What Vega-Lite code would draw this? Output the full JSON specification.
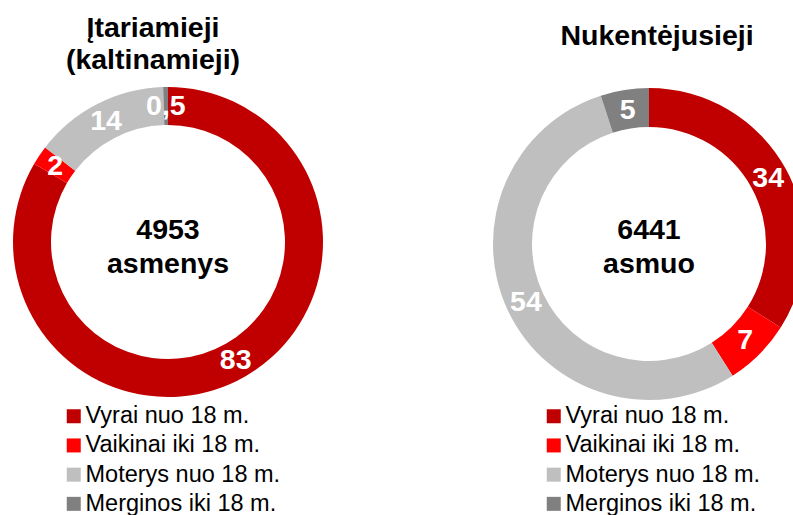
{
  "$schema": "https://vega.github.io/schema/vega-lite/v6.json",
  "padding": {"top": 13, "left": 0, "right": -12, "bottom": 0},
  "autosize": {"type": "pad"},
  "background": "white",
  "bounds": "flush",
  "spacing": 157,
  "config": {"font": "Liberation Sans", "view": {"stroke": null}},
  "datasets": {
    "left": [
      {"category": "Vyrai nuo 18 m.", "value": 83, "label": "83", "order": 1},
      {"category": "Vaikinai iki 18 m.", "value": 2, "label": "2", "order": 2},
      {"category": "Moterys nuo 18 m.", "value": 14, "label": "14", "order": 3},
      {"category": "Merginos iki 18 m.", "value": 0.5, "label": "0,5", "order": 4}
    ],
    "right": [
      {"category": "Vyrai nuo 18 m.", "value": 34, "label": "34", "order": 1},
      {"category": "Vaikinai iki 18 m.", "value": 7, "label": "7", "order": 2},
      {"category": "Moterys nuo 18 m.", "value": 54, "label": "54", "order": 3},
      {"category": "Merginos iki 18 m.", "value": 5, "label": "5", "order": 4}
    ]
  },
  "resolve": {"legend": {"color": "independent"}},
  "hconcat": [
    {
      "width": 336,
      "height": 310,
      "title": {"text": ["Įtariamieji", "(kaltinamieji)"], "fontSize": 28.5, "fontWeight": "bold", "lineHeight": 32, "offset": 13, "dx": -15, "anchor": "middle", "color": "black"},
      "layer": [
        {
          "data": {"name": "left"},
          "mark": {"type": "arc", "outerRadius": 155, "innerRadius": 117},
          "encoding": {
            "theta": {"field": "value", "type": "quantitative", "stack": true},
            "order": {"field": "order", "type": "quantitative"},
            "color": {
              "field": "category", "type": "nominal",
              "scale": {"domain": ["Vyrai nuo 18 m.", "Vaikinai iki 18 m.", "Moterys nuo 18 m.", "Merginos iki 18 m."], "range": ["#C00000", "#FF0000", "#BFBFBF", "#808080"]},
              "legend": {"title": null, "orient": "none", "legendX": 62, "legendY": 317.5, "direction": "vertical", "symbolType": "square", "symbolSize": 196, "symbolStrokeWidth": 0, "labelFontSize": 23.5, "labelColor": "black", "labelOffset": 0, "rowPadding": 4.2, "labelLimit": 400}
            }
          }
        },
        {
          "data": {"name": "left"},
          "mark": {"type": "text", "radius": 136, "fontSize": 28.5, "fontWeight": "bold", "color": "white"},
          "encoding": {
            "theta": {"field": "value", "type": "quantitative", "stack": true},
            "order": {"field": "order", "type": "quantitative"},
            "text": {"field": "label", "type": "nominal"}
          }
        },
        {
          "data": {"values": [{"center": "4953\nasmenys"}]},
          "mark": {"type": "text", "fontSize": 28.5, "fontWeight": "bold", "lineBreak": "\n", "lineHeight": 34, "dy": -12, "color": "black"},
          "encoding": {"text": {"field": "center", "type": "nominal"}}
        }
      ]
    },
    {
      "width": 312,
      "height": 314,
      "title": {"text": "Nukentėjusieji", "fontSize": 28.5, "fontWeight": "bold", "offset": 37, "dx": 8, "anchor": "middle", "color": "black"},
      "layer": [
        {
          "data": {"name": "right"},
          "mark": {"type": "arc", "outerRadius": 156, "innerRadius": 117},
          "encoding": {
            "theta": {"field": "value", "type": "quantitative", "stack": true},
            "order": {"field": "order", "type": "quantitative"},
            "color": {
              "field": "category", "type": "nominal",
              "scale": {"domain": ["Vyrai nuo 18 m.", "Vaikinai iki 18 m.", "Moterys nuo 18 m.", "Merginos iki 18 m."], "range": ["#C00000", "#FF0000", "#BFBFBF", "#808080"]},
              "legend": {"title": null, "orient": "none", "legendX": 49, "legendY": 317.5, "direction": "vertical", "symbolType": "square", "symbolSize": 196, "symbolStrokeWidth": 0, "labelFontSize": 23.5, "labelColor": "black", "labelOffset": 0, "rowPadding": 4.2, "labelLimit": 400}
            }
          }
        },
        {
          "data": {"name": "right"},
          "mark": {"type": "text", "radius": 136, "fontSize": 28.5, "fontWeight": "bold", "color": "white"},
          "encoding": {
            "theta": {"field": "value", "type": "quantitative", "stack": true},
            "order": {"field": "order", "type": "quantitative"},
            "text": {"field": "label", "type": "nominal"}
          }
        },
        {
          "data": {"values": [{"center": "6441\nasmuo"}]},
          "mark": {"type": "text", "fontSize": 28.5, "fontWeight": "bold", "lineBreak": "\n", "lineHeight": 34, "dy": -14, "color": "black"},
          "encoding": {"text": {"field": "center", "type": "nominal"}}
        }
      ]
    }
  ]
}
